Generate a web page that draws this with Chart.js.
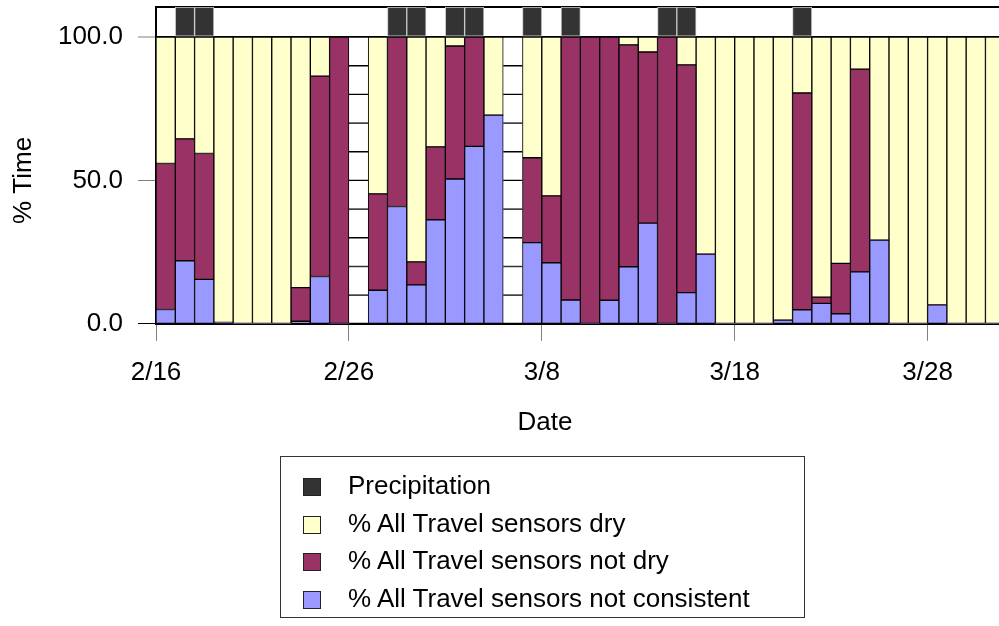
<!DOCTYPE html>
<html>
<head>
<meta charset="utf-8">
<script src="https://cdn.jsdelivr.net/npm/chart.js@4.4.0/dist/chart.umd.min.js"></script>
<style>
  body { margin: 0; overflow: hidden; background: #fff; font-family: "Liberation Sans", Arial, sans-serif; }
  #wrap { position: relative; width: 999px; height: 626px; overflow: hidden; }
  #myChart { position: absolute; left: 0; top: 0; }
  #legend { position: absolute; left: 280px; top: 456px; width: 525px; height: 162px; border: 1px solid #333;
            box-sizing: border-box; padding-top: 11px; }
  .item { position: relative; height: 37.7px; line-height: 37.7px; font-size: 26px; color: #000; white-space: nowrap; }
  .item .box { position: absolute; left: 22px; top: 10px; width: 18px; height: 18px; box-sizing: border-box; border: 1px solid #222; }
  .item .txt { position: absolute; left: 67px; top: -1px; }
</style>
</head>
<body>
<div id="wrap">
  <canvas id="myChart" width="1090" height="626"></canvas>
  <div id="legend"></div>
</div>
<script>
// dias (um por barra)
var dates = ['2/16','2/17','2/18','2/19','2/20','2/21','2/22','2/23','2/24','2/25',
             '2/26','2/27','2/28','3/1','3/2','3/3','3/4','3/5','3/6','3/7',
             '3/8','3/9','3/10','3/11','3/12','3/13','3/14','3/15','3/16','3/17',
             '3/18','3/19','3/20','3/21','3/22','3/23','3/24','3/25','3/26','3/27',
             '3/28','3/29','3/30','3/31'];
var xTickDays = [0, 10, 20, 30, 40];
var yTicks = [0, 50, 100];

// % do tempo por dia (null = sem dados)
var notConsistent = [5.0, 22.0, 15.5, 0.5, 0, 0, 0, 0.9, 16.5, 0,
                     null, 11.7, 40.9, 13.6, 36.3, 50.5, 61.9, 72.8, null, 28.3,
                     21.3, 8.3, 0, 8.2, 19.9, 35.1, 0, 10.9, 24.3, 0,
                     0, 0, 1.3, 4.9, 7.1, 3.5, 18.1, 29.2, 0, 0,
                     6.6, 0, 0, 0];
var notDry = [50.9, 42.5, 43.9, 0, 0, 0, 0, 11.7, 69.9, 100,
              null, 33.6, 59.1, 8.0, 25.4, 46.4, 38.1, 0, null, 29.6,
              23.3, 91.7, 100, 91.8, 77.4, 59.7, 100, 79.4, 0, 0,
              0, 0, 0, 75.6, 2.2, 17.6, 70.7, 0, 0, 0,
              0, 0, 0, 0];
var dry = [44.1, 35.5, 40.6, 99.5, 100, 100, 100, 87.4, 13.6, 0,
           null, 54.7, 0, 78.4, 38.3, 3.1, 0, 27.2, null, 42.1,
           55.4, 0, 0, 0, 2.7, 5.2, 0, 9.7, 75.7, 100,
           100, 100, 98.7, 19.5, 90.7, 78.9, 11.2, 70.8, 100, 100,
           93.4, 100, 100, 100];
var precipDays = [1, 2, 12, 13, 15, 16, 19, 21, 26, 27, 33];
var noDataDays = [10, 18];

var labelPrecip = 'Precipitation';
var labelDry = '% All Travel sensors dry';
var labelNotDry = '% All Travel sensors not dry';
var labelNotCons = '% All Travel sensors not consistent';

var XMAX = 48.42;

function pts(arr) {
  return arr.map(function (v, i) { return { x: i + 0.5, y: v }; });
}
function bw(c) { return (c.raw && c.raw.y) ? 1 : 0; }
function noPad(s) { s.paddingTop = 0; s.paddingBottom = 0; s.paddingLeft = 0; s.paddingRight = 0; }

var datasets = [
  { label: labelNotCons, data: pts(notConsistent), backgroundColor: '#9999FF', stack: 'data' },
  { label: labelNotDry, data: pts(notDry), backgroundColor: '#993366', stack: 'data' },
  { label: labelDry, data: pts(dry), backgroundColor: '#FFFFCC', stack: 'data' }
].map(function (d) {
  d.borderColor = '#000'; d.borderWidth = bw; d.borderSkipped = false; d.yAxisID = 'y';
  return d;
});

// dias sem dados: colunas brancas com linhas a cada 10%
for (var k = 0; k < 10; k++) {
  datasets.push({
    label: '', stack: 'gap', yAxisID: 'y',
    data: noDataDays.map(function (d) { return { x: d + 0.5, y: 10 }; }),
    backgroundColor: '#fff', borderColor: '#000',
    borderWidth: { top: 1, bottom: 1, left: 0, right: 0 }, borderSkipped: false
  });
}

datasets.push({
  label: labelPrecip, yAxisID: 'yp',
  data: precipDays.map(function (d) { return { x: d + 0.5, y: 1 }; }),
  backgroundColor: '#333333', borderColor: '#c8c8c8', borderWidth: 1, borderSkipped: false
});

Chart.defaults.font.family = '"Liberation Sans", Arial, sans-serif';
Chart.defaults.font.size = 26;
Chart.defaults.color = '#000';

var ctx = document.getElementById('myChart');
var myChart = new Chart(ctx, {
  type: 'bar',
  data: { datasets: datasets },
  options: {
    responsive: false,
    animation: false,
    grouped: false,
    barPercentage: 1,
    categoryPercentage: 1,
    layout: { autoPadding: false, padding: { top: 7, left: 0, right: 0, bottom: 183 } },
    plugins: {
      legend: { display: false },
      tooltip: { enabled: false },
      title: { display: true, position: 'bottom', text: 'Date', color: '#000',
               font: { size: 26, weight: 'normal' }, padding: { top: 11, bottom: 5 } }
    },
    scales: {
      x: {
        type: 'linear', min: 0, max: XMAX, offset: false,
        afterBuildTicks: function (s) { s.ticks = xTickDays.map(function (v) { return { value: v }; }); },
        afterFit: function (s) { s.height = 72; noPad(s); },
        ticks: { padding: 16, maxRotation: 0, autoSkip: false,
                 callback: function (v) { return dates[v] || ''; } },
        grid: { drawOnChartArea: false, tickLength: 17, tickColor: '#808080', offset: false },
        border: { color: '#000', width: 2 }
      },
      y: {
        position: 'left', stack: 'v', stackWeight: 286, stacked: true,
        min: 0, max: 100,
        afterBuildTicks: function (s) { s.ticks = yTicks.map(function (v) { return { value: v }; }); },
        afterFit: function (s) { s.width = 156; noPad(s); },
        ticks: { padding: 15, callback: function (v) { return v.toFixed(1); } },
        grid: {
          tickLength: 18,
          color: function (c) { return c.tick && c.tick.value === 100 ? '#000' : 'rgba(0,0,0,0)'; },
          lineWidth: function (c) { return c.tick && c.tick.value === 100 ? 2 : 1; },
          tickColor: function (c) { return c.tick && c.tick.value === 0 ? '#000' : '#808080'; },
          tickWidth: 1
        },
        border: { color: '#000', width: 2 },
        title: { display: true, text: '% Time', padding: { top: 8, bottom: 0 } }
      },
      yp: {
        position: 'left', stack: 'v', stackWeight: 30,
        min: 0, max: 1,
        afterBuildTicks: function (s) { s.ticks = [{ value: 0 }, { value: 1 }]; },
        afterFit: function (s) { s.width = 156; noPad(s); },
        ticks: { display: false },
        grid: { drawTicks: false, color: '#000', lineWidth: 2 },
        border: { color: '#000', width: 2 }
      }
    }
  }
});

// legenda em HTML
var legendOrder = [labelPrecip, labelDry, labelNotDry, labelNotCons];
var html = '';
legendOrder.forEach(function (name) {
  var ds = myChart.data.datasets.find(function (d) { return d.label === name; });
  html += '<div class="item"><span class="box" style="background:' + ds.backgroundColor + '"></span>' +
          '<span class="txt">' + name + '</span></div>';
});
document.getElementById('legend').innerHTML = html;
</script>
</body>
</html>
